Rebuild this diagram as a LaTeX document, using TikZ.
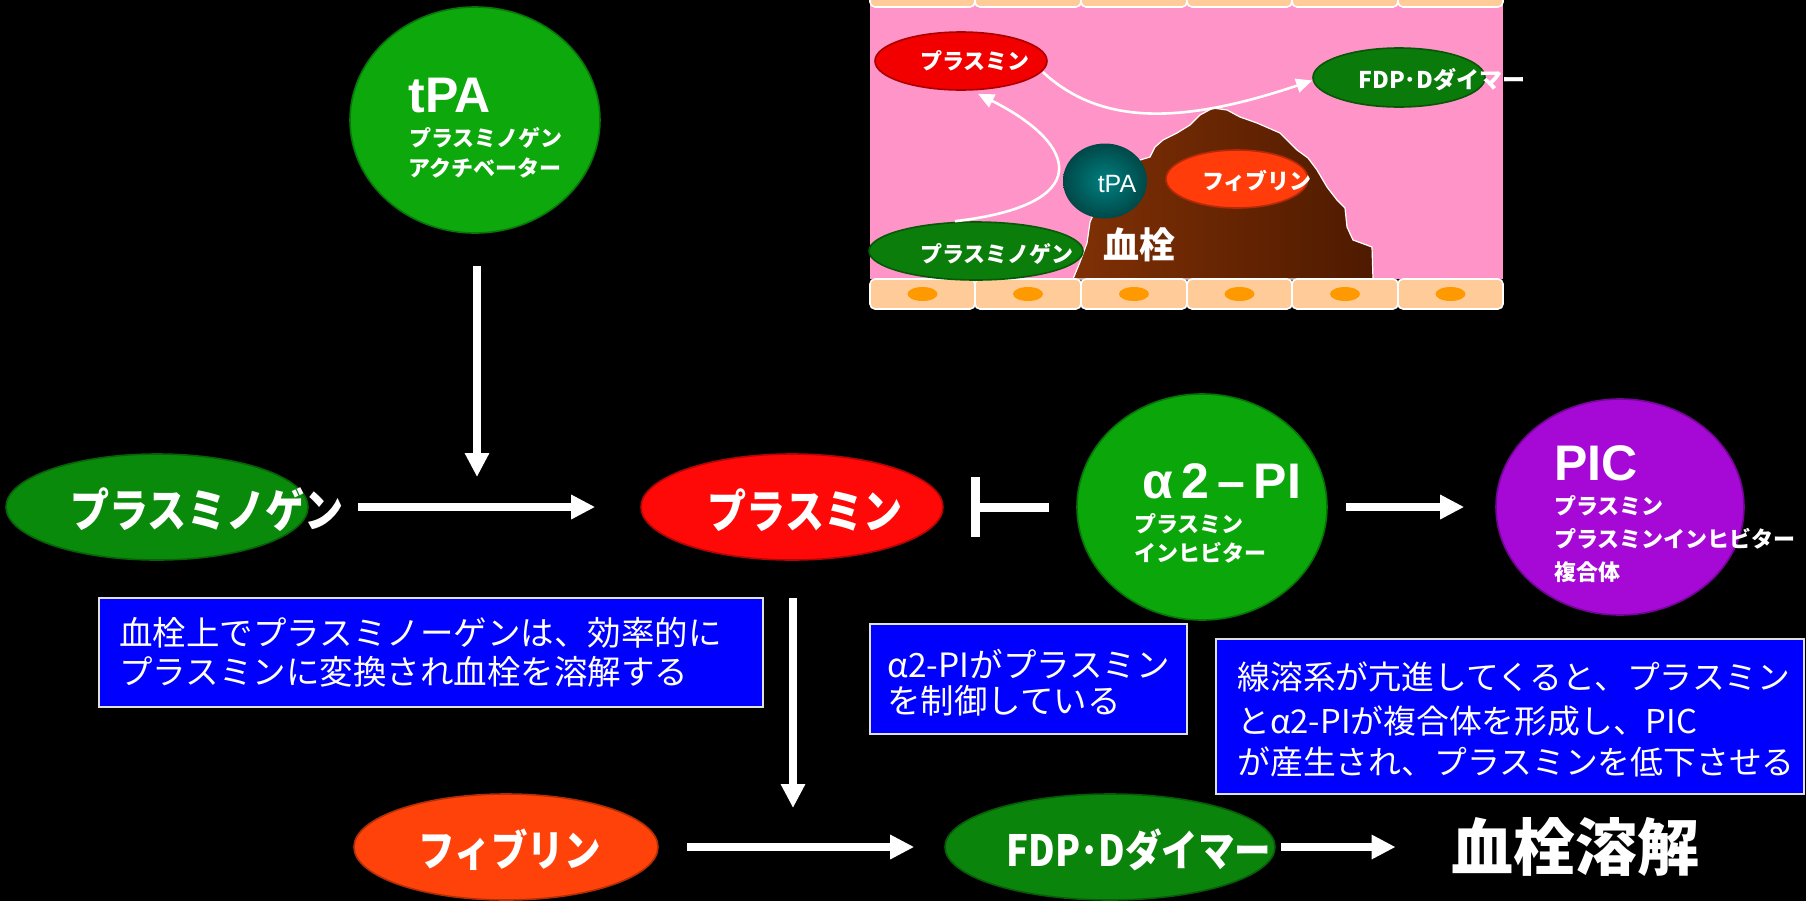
\documentclass[tikz,border=0pt]{standalone}
\usepackage{fontspec}
\setmainfont{Noto Sans CJK JP}
\newfontfamily\jpc{Noto Sans CJK JP}[FakeStretch=0.85]
\newfontfamily\lat{Liberation Sans}
\usetikzlibrary{shapes.geometric,arrows.meta}
\newcommand\fsz[1]{\fontsize{#1}{#1}\selectfont}

\definecolor{tpagreen}{RGB}{12,168,12}
\definecolor{plggreen}{RGB}{10,138,10}
\definecolor{plmred}{RGB}{255,8,8}
\definecolor{pigreen}{RGB}{10,166,10}
\definecolor{picpurple}{RGB}{166,8,214}
\definecolor{fibred}{RGB}{255,66,10}
\definecolor{fdpgreen}{RGB}{10,132,10}
\definecolor{boxblue}{RGB}{0,0,255}
\definecolor{boxedge}{RGB}{225,225,225}
\definecolor{pinkbg}{RGB}{255,148,200}
\definecolor{cellfill}{RGB}{255,204,153}
\definecolor{nucleus}{RGB}{255,153,0}
\definecolor{clotlight}{RGB}{128,48,5}
\definecolor{clotdark}{RGB}{78,26,0}
\definecolor{tealball}{RGB}{0,128,128}
\definecolor{tealedge}{RGB}{0,72,72}
\definecolor{iplmred}{RGB}{242,0,0}
\definecolor{iplggreen}{RGB}{10,125,10}
\definecolor{ifdpgreen}{RGB}{10,122,10}
\definecolor{ifibred}{RGB}{255,60,10}

\begin{document}
\begin{tikzpicture}[x=0.5pt,y=-0.5pt,
  blob/.style={ellipse, inner sep=0pt, fill=#1, draw=#1!70!black, line width=0.8pt},
  sz/.style 2 args={minimum width=#1pt, minimum height=#2pt},
  lbl/.style={text=white, inner sep=0pt},
  big/.style={lbl, font=\jpc\bfseries\fsz{23pt}},
  sml/.style={lbl, anchor=base west, font=\bfseries\fsz{11pt}},
  hd/.style={lbl, anchor=base west, font=\lat\bfseries\fsz{25pt}},
  inl/.style={lbl, font=\bfseries\fsz{11pt}},
  note/.style={lbl, anchor=base west, font=\fsz{16.75pt}},
  bluebox/.style={draw=boxedge, fill=boxblue, line width=1pt, inner sep=0pt, anchor=north west},
  flow/.style={draw=white, line width=4pt, -{Triangle[length=12pt,width=11.5pt]}},
  inhib/.style={draw=white, line width=4.5pt, -{Bar[width=30pt]}},
  infl/.style={draw=white, line width=1.3pt, -{Triangle[length=8pt,width=7pt]}},
  cell/.style={fill=cellfill, draw=white, line width=0.8pt, rounded corners=2.5pt},
]
\fill[black] (0,0) rectangle (1806,901);
\useasboundingbox (0,0) rectangle (1806,901);

% ---------- vessel cross-section ----------
\fill[pinkbg] (870,0) rectangle (1503,279);
\shadedraw[left color=clotlight, right color=clotdark, draw=white, line width=0.6pt]
  (1073,279) -- (1080,262) -- (1087,243) -- (1090,222) -- (1100,200) -- (1120,172)
  -- (1140,160) -- (1150,157) -- (1155,147) -- (1163,140) -- (1177,133) -- (1190,125)
  -- (1200,115) -- (1213,108) -- (1227,110) -- (1240,117) -- (1257,123) -- (1280,133)
  -- (1297,150) -- (1308,158) -- (1317,170) -- (1327,187) -- (1337,200) -- (1345,208)
  -- (1347,227) -- (1353,240) -- (1372,247) -- (1373,279) -- cycle;
\foreach \a/\b in {870/975,975/1081,1081/1187,1187/1292,1292/1398,1398/1503}{
  \draw[cell] (\a,-20) rectangle (\b,7);
  \draw[cell] (\a,279) rectangle (\b,309);
  \fill[nucleus] ({(\a+\b)/2},294) ellipse [x radius=7.5pt, y radius=3.5pt];
}

\node[blob=iplmred, sz={86}{29}] (plmI) at (961,61) {};
\node[blob=ifdpgreen, sz={86}{29.5}] (fdpI) at (1399,77.5) {};
\node[blob=iplggreen, sz={107}{29}] (plgI) at (976,251) {};

\draw[infl] ([xshift=-10.5pt]plgI.north) .. controls (1095,205) and (1080,145) .. ([xshift=8.5pt,yshift=-1.5pt]plmI.south);
\draw[infl] ([xshift=-2.5pt,yshift=-5.5pt]plmI.east) .. controls (1100,125) and (1180,125) .. ([yshift=-1.5pt]fdpI.west);

\node[ellipse, inner sep=0pt, sz={42}{37.5}, inner color=tealball, outer color=tealedge] (tpaI) at (1105,181) {};
\node[blob=ifibred, sz={71}{29}] (fibI) at (1237,179) {};

\node[inl] at (975,61) {プラスミン};
\node[inl] at (997,254) {プラスミノゲン};
\node[inl] at (1257,181) {フィブリン};
\node[inl, anchor=west, font=\bfseries\fsz{11.5pt}] at (1358,80) {FDP･Dダイマー};
\node[lbl, font=\lat\fsz{12.5pt}] at (1117,184) {tPA};
\node[lbl, font=\bfseries\fsz{18pt}] at (1139,245) {血栓};

% ---------- main pathway ----------
\node[blob=tpagreen, sz={125}{113}] (tpa) at (475,120) {};
\node[blob=plggreen, sz={151}{53}] (plg) at (157,507) {};
\node[blob=plmred, sz={151}{53}] (plm) at (792,507) {};
\node[blob=pigreen, sz={125}{113}] (a2pi) at (1202,507) {};
\node[blob=picpurple, sz={124}{108}] (pic) at (1620,507) {};
\node[blob=fibred, sz={152}{53}] (fib) at (506,847) {};
\node[blob=fdpgreen, sz={165}{53}] (fdp) at (1110,847) {};

\node[hd] (tpaH) at (408,112) {tPA};
\node[sml] at (409,146) {プラスミノゲン};
\node[sml] at (408,176) {アクチベーター};

\node[big] (plgT) at (207,510) {プラスミノゲン};
\node[big] (plmT) at (805,510) {プラスミン};
\node[big, font=\jpc\bfseries\fsz{21.5pt}] (fibT) at (510,850) {フィブリン};
\node[big, font=\jpc\bfseries\fsz{21.5pt}] (fdpT) at (1139,850) {FDP･Dダイマー};
\node[lbl, font=\bfseries\fsz{31pt}] (lysis) at (1575,847) {血栓溶解};

\node[hd] (piH) at (1142,498) {α\,2\,–\,PI};
\node[sml] at (1134,532) {プラスミン};
\node[sml] at (1134,561) {インヒビター};

\node[hd] (picH) at (1554,480) {PIC};
\node[sml] at (1554,514) {プラスミン};
\node[sml] at (1554,547) {プラスミンインヒビター};
\node[sml] at (1554,580) {複合体};

\coordinate (tpajoin) at (477,477);
\coordinate (plmjoin) at (793,808);
\draw[flow] ([xshift=1pt,yshift=-16pt]tpa.south) -- (tpajoin);
\draw[flow] ([xshift=24.5pt]plg.east) -- ([xshift=-22.5pt]plm.west);
\draw[inhib] ([xshift=-13.5pt]a2pi.west) -- ([xshift=13.75pt]plm.east);
\draw[flow] ([xshift=9pt]a2pi.east) -- ([xshift=-15.5pt]pic.west);
\draw[flow] ([xshift=0.5pt,yshift=-18.5pt]plm.south) -- (plmjoin);
\draw[flow] ([xshift=14pt]fib.east) -- ([xshift=-15pt]fdp.west);
\draw[flow] ([xshift=2.5pt]fdp.east) -- ([xshift=-27.5pt]lysis.west);

% ---------- explanatory notes ----------
\node[bluebox, minimum width=332pt, minimum height=54.5pt] (box1) at (98,597) {};
\node[note] at (119,645) {血栓上でプラスミノーゲンは、効率的に};
\node[note] at (119,684) {プラスミンに変換され血栓を溶解する};

\node[bluebox, minimum width=158.5pt, minimum height=55pt] (box2) at (869,623) {};
\node[note] at (887,677) {α2-PIがプラスミン};
\node[note] at (887,713) {を制御している};

\node[bluebox, minimum width=294pt, minimum height=77.5pt] (box3) at (1215,638) {};
\node[note, font=\fsz{16.4pt}] at (1237,689) {線溶系が亢進してくると、プラスミン};
\node[note, font=\fsz{16.4pt}] at (1237,733) {とα2-PIが複合体を形成し、PIC};
\node[note, font=\fsz{16.4pt}] at (1237,774) {が産生され、プラスミンを低下させる};
\end{tikzpicture}
\end{document}
